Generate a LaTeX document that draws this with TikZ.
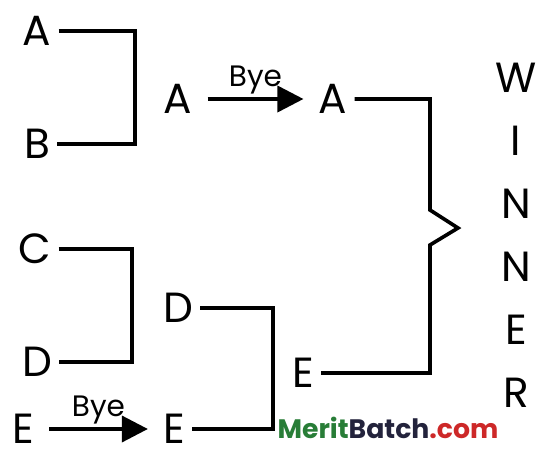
\documentclass[tikz,border=0pt]{standalone}
\usepackage{fontspec}
\setmainfont{Poppins}
\usetikzlibrary{arrows.meta}
\definecolor{meritG}{RGB}{40,125,55}
\definecolor{meritB}{RGB}{35,35,60}
\definecolor{meritR}{RGB}{205,40,40}
\tikzstyle{team}=[font=\fontsize{30}{36}\selectfont, inner sep=5pt]
\tikzstyle{bracket}=[line width=2.6pt, line join=miter]
\tikzstyle{bye}=[line width=2.6pt, shorten <=2mm, shorten >=2mm, -{Triangle[length=6.5mm, width=6.5mm]}]
\tikzstyle{byetext}=[font=\fontsize{21}{24}\selectfont, above, inner sep=2pt]
\tikzstyle{winner}=[font=\fontsize{30}{36}\selectfont]

\begin{document}
\begin{tikzpicture}[x=0.25mm, y=-0.25mm]
		\useasboundingbox (0,0) rectangle (547,450);

		\node[team] (a1) at (37,31) {A};
		\node[team] (b1) at (37,144) {B};
		\node[team] (c1) at (35,249) {C};
		\node[team] (d1) at (37,362) {D};
		\node[team, inner ysep=2pt] (e1) at (23,429) {E};

		\node[team] (a2) at (178,99) {A};
		\node[team] (a3) at (333,99) {A};
		\node[team] (d2) at (178,308) {D};
		\node[team, inner ysep=2pt] (e2) at (174,429) {E};
		\node[team] (e3) at (303,373) {E};

		\coordinate (ab) at (135,90);
		\coordinate (cd) at (132,300);
		\coordinate (de) at (273,370);
		\coordinate (kinkTop) at (430,210);
		\coordinate (kinkTip) at (458,228);
		\coordinate (kinkBot) at (430,245);

		\draw[bracket] (a1.east) -| (ab) |- (b1.east);
		\draw[bracket] (c1.east) -| (cd) |- (d1.east);
		\draw[bracket] (d2.east) -| (de) |- (e2.east);
		\draw[bracket] (a3.east) -| (kinkTop) -- (kinkTip) -- (kinkBot) |- (e3.east);

		\draw[bye] (a2) -- node[byetext] (bye1) {Bye} (a3);
		\draw[bye] (e1) -- node[byetext] (bye2) {Bye} (e2);

		\foreach \letter [count=\i] in {W,I,N,N,E,R}
			\node[winner] (w\i) at (516,15+63*\i) {\letter};

		\node[font=\fontsize{19}{22}\selectfont\bfseries] (merit) at (388,428) {\color{meritG}Merit\color{meritB}Batch\color{meritR}.com};
	\end{tikzpicture}
\end{document}
